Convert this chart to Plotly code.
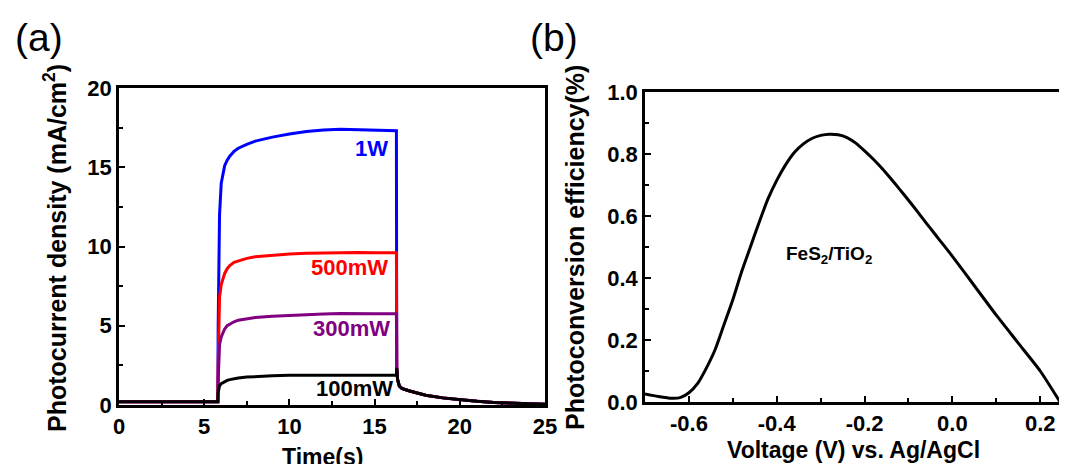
import plotly.graph_objects as go

# ---------- Panel (a) data ----------
time_s = [0, 5.8, 5.82, 5.85, 5.9, 6.0, 6.1, 6.2, 6.35, 6.5, 6.75, 7.0, 7.5, 8, 9, 10, 11, 12, 13, 14, 15, 16.28,
          16.3, 16.35, 16.45, 16.6, 17, 17.5, 18, 19, 20, 21, 22, 23, 24, 25]
post_off = [2.35, 1.6, 1.2, 1.05, 0.9, 0.75, 0.62, 0.45, 0.33, 0.24, 0.16, 0.11, 0.07, 0.05]
j_1w = [0.2, 0.2, 5.0, 9.0, 12.0, 14.0, 14.7, 15.1, 15.45, 15.7, 16.0, 16.2, 16.45, 16.65, 16.9, 17.1, 17.25,
        17.35, 17.4, 17.38, 17.33, 17.3] + post_off
j_500mw = [0.2, 0.2, 2.5, 5.5, 6.8, 7.6, 8.0, 8.3, 8.6, 8.8, 9.0, 9.1, 9.25, 9.35, 9.45, 9.52, 9.57,
           9.6, 9.62, 9.62, 9.6, 9.6] + post_off
j_300mw = [0.2, 0.2, 1.5, 3.0, 3.8, 4.3, 4.6, 4.8, 5.0, 5.1, 5.25, 5.35, 5.45, 5.52, 5.6, 5.66, 5.7,
           5.74, 5.77, 5.78, 5.76, 5.75] + post_off
j_100mw = [0.2, 0.2, 0.8, 1.05, 1.2, 1.35, 1.42, 1.48, 1.55, 1.6, 1.66, 1.7, 1.76, 1.8, 1.84, 1.87, 1.88,
           1.89, 1.9, 1.9, 1.9, 1.9] + post_off
series_names = ["1W", "500mW", "300mW", "100mW"]
series_colors = ["#0000FF", "#FF0000", "#800080", "#000000"]
label_y = [16.2, 8.7, 4.8, 1.07]
label_x = [15.9, 15.9, 16.0, 16.2]

a_xticks = [0, 5, 10, 15, 20, 25]
a_yticks = [0, 5, 10, 15, 20]

# ---------- Panel (b) data ----------
voltage = [-0.70, -0.67, -0.64, -0.62, -0.60, -0.58, -0.56, -0.54, -0.52, -0.50, -0.48, -0.46, -0.44, -0.42,
           -0.40, -0.38, -0.36, -0.34, -0.32, -0.30, -0.28, -0.26, -0.24, -0.22, -0.20, -0.18, -0.16, -0.14,
           -0.12, -0.10, -0.08, -0.06, -0.04, -0.02, 0.0, 0.05, 0.10, 0.15, 0.20, 0.245]
efficiency = [0.026, 0.018, 0.012, 0.014, 0.03, 0.06, 0.11, 0.17, 0.25, 0.33, 0.42, 0.50, 0.58, 0.655,
              0.715, 0.765, 0.805, 0.832, 0.85, 0.86, 0.864, 0.862, 0.853, 0.835, 0.81, 0.783, 0.753, 0.72,
              0.686, 0.651, 0.615, 0.578, 0.542, 0.506, 0.47, 0.375, 0.28, 0.19, 0.10, 0.0]
b_xticks = [-0.6, -0.4, -0.2, 0.0, 0.2]
b_xticktext = ["-0.6", "-0.4", "-0.2", "0.0", "0.2"]
b_yticks = [0.0, 0.2, 0.4, 0.6, 0.8, 1.0]
b_yticktext = ["0.0", "0.2", "0.4", "0.6", "0.8", "1.0"]

FONT = "Liberation Sans, Arial, sans-serif"
OFF = 8                      # default page margin around the plot div
W, H = 1067 - OFF, 464 - OFF

fig = go.Figure()
for name, ys, col in zip(series_names, [j_1w, j_500mw, j_300mw, j_100mw], series_colors):
    fig.add_trace(go.Scatter(x=time_s, y=ys, mode="lines", name=name,
                             line=dict(color=col, width=3), xaxis="x", yaxis="y"))
fig.add_trace(go.Scatter(x=voltage, y=efficiency, mode="lines", name="FeS2/TiO2",
                         line=dict(color="black", width=3, shape="spline", smoothing=0.6),
                         xaxis="x2", yaxis="y2"))

def px_x(p):
    return (p - OFF) / W

def px_y(p):
    return 1 - (p - OFF) / H

axis_common = dict(showline=True, linecolor="black", linewidth=2.5, mirror=True, ticks="inside",
                   ticklen=6, tickwidth=2, tickcolor="black", showgrid=False, zeroline=False,
                   automargin=False,
                   tickfont=dict(family=FONT, size=22, color="black", weight="bold"))

fig.update_layout(
    template="none",
    width=W, height=H, margin=dict(l=0, r=0, t=0, b=0, pad=0, autoexpand=False),
    paper_bgcolor="white", plot_bgcolor="white", showlegend=False,
    xaxis=dict(domain=[px_x(119), px_x(545)], range=[0, 25], tickvals=a_xticks, anchor="y",
               minor=dict(ticks="inside", dtick=2.5, ticklen=4, tickwidth=2, tickcolor="black"),
               **axis_common),
    yaxis=dict(domain=[px_y(405), px_y(88)], range=[0, 20], tickvals=a_yticks, anchor="x",
               minor=dict(ticks="inside", dtick=2.5, ticklen=4, tickwidth=2, tickcolor="black"),
               **axis_common),
    xaxis2=dict(domain=[px_x(645), px_x(1060)], range=[-0.7, 0.245], tickvals=b_xticks,
                ticktext=b_xticktext, anchor="y2",
                minor=dict(ticks="inside", tickvals=[-0.7, -0.5, -0.3, -0.1, 0.1], ticklen=4,
                           tickwidth=2, tickcolor="black"),
                **axis_common),
    yaxis2=dict(domain=[px_y(402), px_y(92)], range=[0, 1.0], tickvals=b_yticks,
                ticktext=b_yticktext, anchor="x2",
                minor=dict(ticks="inside", dtick=0.1, ticklen=4, tickwidth=2, tickcolor="black"),
                **axis_common),
)

ann = []
for name, col, lx, ly in zip(series_names, series_colors, label_x, label_y):
    ann.append(dict(x=lx, y=ly, xref="x", yref="y", text=f"<b>{name}</b>", showarrow=False,
                    xanchor="right", yanchor="middle",
                    font=dict(family=FONT, size=22, color=col)))
ann.append(dict(x=-0.28, y=0.474, xref="x2", yref="y2", text="<b>FeS<sub>2</sub>/TiO<sub>2</sub></b>",
                showarrow=False, xanchor="center", yanchor="middle",
                font=dict(family=FONT, size=19, color="black")))
# axis titles
ann.append(dict(x=px_x(322), y=px_y(442), xref="paper", yref="paper", text="<b>Time(s)</b>",
                showarrow=False, xanchor="center", yanchor="top",
                font=dict(family=FONT, size=23, color="black")))
ann.append(dict(x=px_x(853), y=px_y(435), xref="paper", yref="paper",
                text="<b>Voltage (V) vs. Ag/AgCl</b>", showarrow=False, xanchor="center", yanchor="top",
                font=dict(family=FONT, size=23, color="black")))
ann.append(dict(x=px_x(55), y=px_y(248), xref="paper", yref="paper",
                text="<b>Photocurrent density (mA/cm<sup>2</sup>)</b>", showarrow=False, textangle=-90,
                xanchor="center", yanchor="middle", font=dict(family=FONT, size=25, color="black")))
ann.append(dict(x=px_x(575), y=px_y(248), xref="paper", yref="paper",
                text="<b>Photoconversion efficiency(%)</b>", showarrow=False, textangle=-90,
                xanchor="center", yanchor="middle", font=dict(family=FONT, size=25, color="black")))
# panel letters
ann.append(dict(x=px_x(13), y=px_y(14), xref="paper", yref="paper", text="(a)", showarrow=False,
                xanchor="left", yanchor="top", font=dict(family=FONT, size=39, color="black")))
ann.append(dict(x=px_x(528), y=px_y(14), xref="paper", yref="paper", text="(b)", showarrow=False,
                xanchor="left", yanchor="top", font=dict(family=FONT, size=39, color="black")))
fig.update_layout(annotations=ann)

fig.write_html("out.html")
